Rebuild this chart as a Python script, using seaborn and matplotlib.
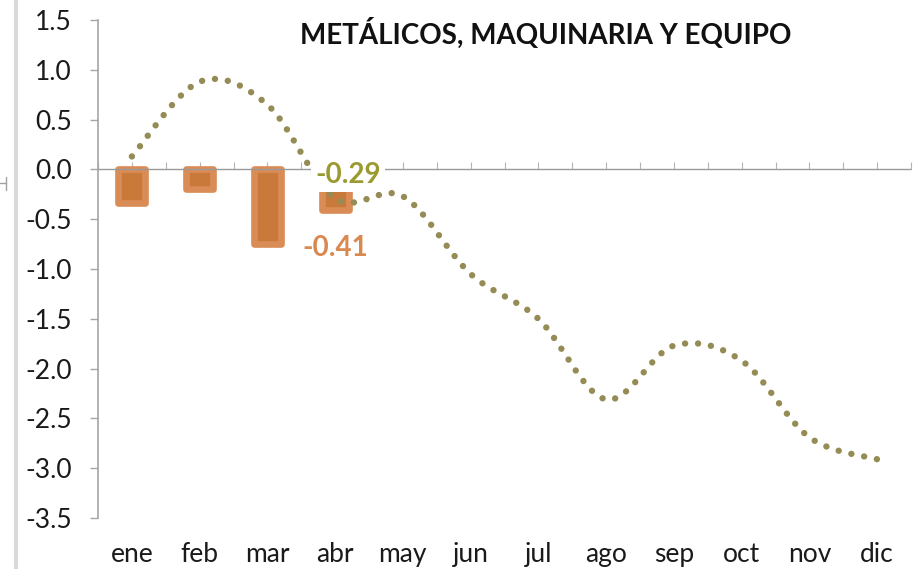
import numpy as np
import pandas as pd
import matplotlib
matplotlib.use("Agg")
import matplotlib.pyplot as plt
import seaborn as sns
from matplotlib.path import Path
from matplotlib.patches import PathPatch
from matplotlib.lines import Line2D
from matplotlib.ticker import FixedLocator, FormatStrFormatter

# ---------------- data ----------------
months = ["ene", "feb", "mar", "abr", "may", "jun", "jul", "ago", "sep", "oct", "nov", "dic"]
bar_values = [-0.34, -0.20, -0.75, -0.41, np.nan, np.nan, np.nan, np.nan, np.nan, np.nan, np.nan, np.nan]
line_values = [0.13, 0.88, 0.65, -0.29, -0.27, -1.05, -1.50, -2.31, -1.77, -1.92, -2.69, -2.91]
yticks = [1.5, 1.0, 0.5, 0.0, -0.5, -1.0, -1.5, -2.0, -2.5, -3.0, -3.5]
title = "METÁLICOS, MAQUINARIA Y EQUIPO"
bar_label = "-0.41"
line_label = "-0.29"

# ---------------- style ----------------
sns.set_theme(style="white")
plt.rcParams["font.family"] = ["Lato", "DejaVu Sans"]
plt.rcParams["axes.unicode_minus"] = False

BAR_FACE = "#C97A3A"
BAR_EDGE = "#D98C55"
LINE_COL = "#958B55"
LBL_LINE = "#9A9A30"
LBL_BAR = "#D9894F"
AX_GREY = "#A6A6A6"

W, H = 918, 569
fig = plt.figure(figsize=(W / 100, H / 100), dpi=100)
ax = fig.add_axes([98 / W, 1 - 518 / H, (911 - 98) / W, (518 - 20) / H])

df = pd.DataFrame({"mes": months, "valor": bar_values})
sns.barplot(data=df, x="mes", y="valor", order=months, width=0.4,
            color=BAR_FACE, saturation=1, errorbar=None, ax=ax,
            edgecolor=BAR_EDGE, linewidth=4.8, zorder=2)
for p in ax.patches:
    p.set_joinstyle("round")

# smooth (Bezier) line through the monthly values
xs = np.arange(len(months), dtype=float)
ys = np.array(line_values, dtype=float)
n = len(xs)
verts = [(xs[0], ys[0])]
codes = [Path.MOVETO]
for i in range(n - 1):
    im1 = max(i - 1, 0)
    ip2 = min(i + 2, n - 1)
    c1 = (xs[i] + (xs[i + 1] - xs[im1]) / 6, ys[i] + (ys[i + 1] - ys[im1]) / 6)
    c2 = (xs[i + 1] - (xs[ip2] - xs[i]) / 6, ys[i + 1] - (ys[ip2] - ys[i]) / 6)
    verts += [c1, c2, (xs[i + 1], ys[i + 1])]
    codes += [Path.CURVE4, Path.CURVE4, Path.CURVE4]
curve = PathPatch(Path(verts, codes), fill=False, edgecolor=LINE_COL, lw=4.6,
                  linestyle=(0, (0.01, 2.03)), capstyle="round", zorder=4)
ax.add_patch(curve)

# axes
ax.set_xlim(-0.5, n - 0.5)
ax.set_ylim(-3.5, 1.5)
ax.yaxis.set_major_locator(FixedLocator(yticks))
ax.yaxis.set_major_formatter(FormatStrFormatter("%.1f"))
ax.set_xlabel("")
ax.set_ylabel("")
for s in ["top", "right"]:
    ax.spines[s].set_visible(False)
ax.spines["left"].set_color(AX_GREY)
ax.spines["left"].set_linewidth(1.2)
ax.spines["bottom"].set_position(("data", 0))
ax.spines["bottom"].set_color("#9A9A9A")
ax.spines["bottom"].set_linewidth(1.0)
ax.spines["bottom"].set_linestyle((0, (1, 1)))
ax.spines["bottom"].set_zorder(3)

ax.tick_params(axis="y", left=True, direction="out", length=5.8, width=1.0,
               color=AX_GREY, pad=13, labelsize=19, labelcolor="#1a1a1a")
ax.set_xticks(range(n))
ax.set_xticks(np.arange(-0.5, n, 1.0), minor=True)
ax.tick_params(axis="x", which="both", bottom=True, direction="in", length=5,
               width=0.8, color="#B5B5B5", labelbottom=False)

sec = ax.secondary_xaxis(0)
sec.set_xticks(range(n), labels=months)
sec.tick_params(length=0, pad=17, labelsize=19, labelcolor="#1a1a1a")
sec.spines["bottom"].set_visible(False)

# title
ax.text(0.551, 0.974, title, transform=ax.transAxes, ha="center", va="center",
        fontsize=20, fontweight="bold", color="#111111")

# data labels
ax.annotate(bar_label, xy=(3, bar_values[3]), xytext=(0, -38), textcoords="offset pixels",
            ha="center", va="center", fontsize=20, fontweight="bold", color=LBL_BAR, zorder=6)
ax.annotate(line_label, xy=(3, line_values[3]), xytext=(13, 23), textcoords="offset pixels",
            ha="center", va="center", fontsize=20, fontweight="bold", color=LBL_LINE,
            bbox=dict(boxstyle="square,pad=0.15", fc="white", ec="none"), zorder=10)

# left-edge decorations
fig.add_artist(Line2D([15.5 / W, 15.5 / W], [0, 1], color="#D9D9D9", lw=3,
                      transform=fig.transFigure))
fig.add_artist(Line2D([0, 6 / W], [1 - 183 / H, 1 - 183 / H], color="#A0A0A0", lw=1,
                      transform=fig.transFigure))
fig.add_artist(Line2D([6 / W, 6 / W], [1 - 177 / H, 1 - 190 / H], color="#A0A0A0", lw=1,
                      transform=fig.transFigure))

fig.savefig("out.png", dpi=100)
